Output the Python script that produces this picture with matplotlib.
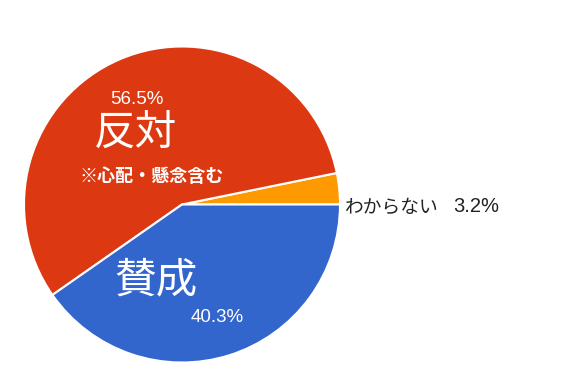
import matplotlib
matplotlib.use("Agg")
import matplotlib.pyplot as plt

plt.rcParams['font.family'] = ['Noto Sans CJK JP', 'DejaVu Sans']

# --- データ ---
labels = ["わからない", "反対", "賛成"]
shares = [3.2, 56.5, 40.3]
colors = ["#ff9900", "#dc3912", "#3366cc"]

W, H = 567, 388
fig = plt.figure(figsize=(W / 100, H / 100), dpi=100)
ax = fig.add_axes([0, 0, 1, 1])

cx, cy, r = 182, H - 204.5, 158
ax.pie(shares, colors=colors, startangle=0, counterclock=True,
       center=(cx, cy), radius=r, frame=True,
       wedgeprops=dict(edgecolor="white", linewidth=1.5))
ax.set_xlim(0, W)
ax.set_ylim(0, H)
ax.set_aspect("equal")
ax.axis("off")

def py(y):
    return H - y

# 反対
ax.text(137, py(100), f"{shares[1]}%", color="white", fontsize=13.5,
        family="Liberation Sans", ha="center", va="center")
ax.text(135, py(133), labels[1], color="white", fontsize=30,
        ha="center", va="center")
ax.text(152, py(177), "※心配・懸念含む", color="white", fontsize=13,
        fontweight="bold", ha="center", va="center")

# 賛成
ax.text(156, py(281), labels[2], color="white", fontsize=30,
        ha="center", va="center")
ax.text(217, py(317), f"{shares[2]}%", color="white", fontsize=13.5,
        family="Liberation Sans", ha="center", va="center")

# わからない
ax.text(345, py(207), labels[0], color="#222222", fontsize=13.5,
        ha="left", va="center")
ax.text(453, py(207), f"{shares[0]}%", color="#222222", fontsize=14.5,
        family="Liberation Sans", ha="left", va="center")

fig.savefig("out.png", dpi=100)
